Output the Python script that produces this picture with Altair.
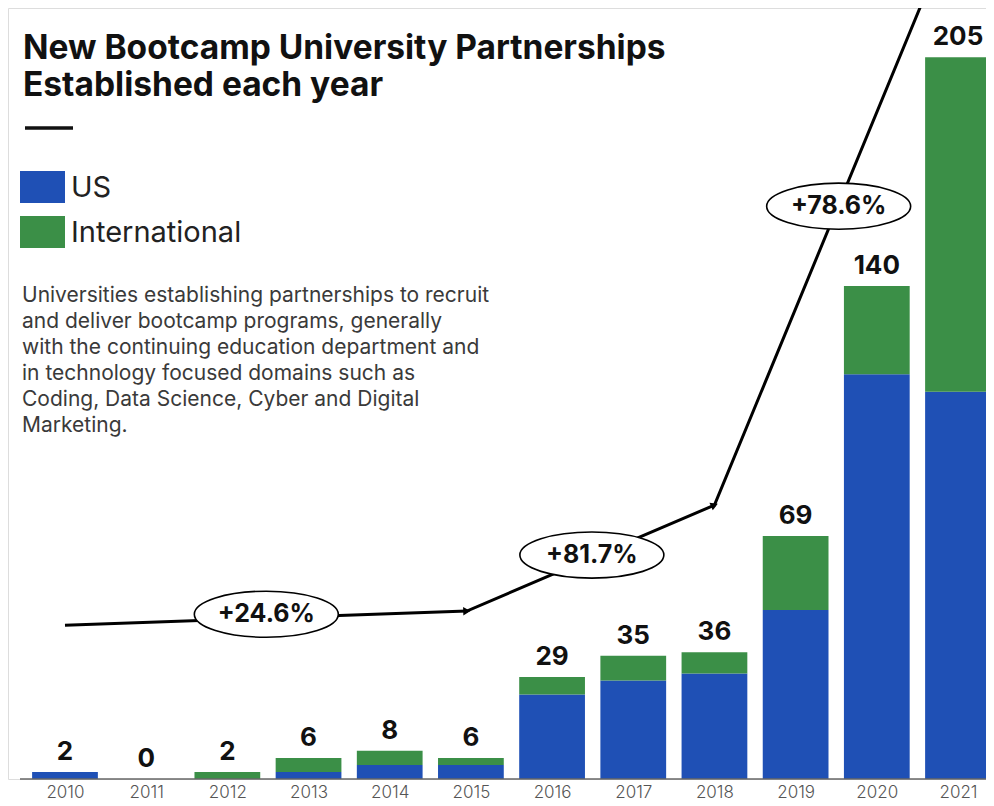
import altair as alt
import pandas as pd

# ---- data ----
years = [2010, 2011, 2012, 2013, 2014, 2015, 2016, 2017, 2018, 2019, 2020, 2021]
us_values = [2, 0, 0, 2, 4, 4, 24, 28, 30, 48, 115, 110]
intl_values = [0, 0, 2, 4, 4, 2, 5, 7, 6, 21, 25, 95]
totals = [u + i for u, i in zip(us_values, intl_values)]

trend_x = [2010.0, 2014.95, 2018.0, 2020.62]
trend_y = [43.7, 47.7, 77.8, 224.0]

growth_labels = ["+24.6%", "+81.7%", "+78.6%"]
growth_x = [2012.48, 2016.49, 2019.53]
growth_y = [46.8, 63.6, 162.7]

title_lines = ["New Bootcamp University Partnerships", "Established each year"]
legend_labels = ["US", "International"]
note_lines = [
    "Universities establishing partnerships to recruit",
    "and deliver bootcamp programs, generally",
    "with the continuing education department and",
    "in technology focused domains such as",
    "Coding, Data Science, Cyber and Digital",
    "Marketing.",
]

BLUE = "#1f50b5"
GREEN = "#3b8f47"
FONT = "Inter"

# ---- tables ----
bars = pd.DataFrame(
    {
        "year": years * 2,
        "series": ["US"] * len(years) + ["International"] * len(years),
        "value": us_values + intl_values,
        "ord": [0] * len(years) + [1] * len(years),
    }
)
tot = pd.DataFrame({"year": years, "total": totals})
trend = pd.DataFrame({"tx": trend_x, "ty": trend_y, "i": list(range(len(trend_x)))})
growth = pd.DataFrame({"gx": growth_x, "gy": growth_y, "label": growth_labels})

xscale = alt.Scale(domain=[2009.298, 2021.345], nice=False, zero=False)
yscale = alt.Scale(domain=[0, 219], nice=False)

xaxis = alt.Axis(
    values=years, format="d", labelFont=FONT, labelFontSize=17, labelColor="#555",
    ticks=False, domain=False, grid=False, title=None, labelPadding=5, labelFontWeight=300,
)

bar_layer = (
    alt.Chart(bars)
    .transform_stack(stack="value", as_=["v0", "v1"], groupby=["year"],
                     sort=[alt.SortField("ord", order="ascending")])
    .transform_calculate(x0="datum.year - 0.405", x1="datum.year + 0.405")
    .mark_bar(clip=True)
    .encode(
        x=alt.X("x0:Q", scale=xscale, axis=xaxis),
        x2="x1:Q",
        y=alt.Y("v0:Q", scale=yscale, axis=None),
        y2="v1:Q",
        color=alt.Color(
            "series:N",
            scale=alt.Scale(domain=["US", "International"], range=[BLUE, GREEN]),
            legend=None,
        ),
    )
)

value_labels = (
    alt.Chart(tot)
    .mark_text(font=FONT, fontSize=26, fontWeight="bold", baseline="alphabetic", dy=-12, color="#111")
    .encode(x=alt.X("year:Q", scale=xscale), y=alt.Y("total:Q", scale=yscale), text="total:Q")
)

baseline = (
    alt.Chart(pd.DataFrame({"a": [0]}))
    .mark_rule(color="#666", strokeWidth=1.5)
    .encode(x=alt.value(12), x2=alt.value(978), y=alt.value(771))
)

trend_line = (
    alt.Chart(trend)
    .mark_line(color="black", strokeWidth=3, clip=True)
    .encode(x=alt.X("tx:Q", scale=xscale), y=alt.Y("ty:Q", scale=yscale), order="i:Q")
)

arrow1 = (
    alt.Chart(trend)
    .transform_filter("datum.i == 1")
    .mark_point(shape="triangle-right", filled=True, color="black", size=70, angle=358, opacity=1)
    .encode(x=alt.X("tx:Q", scale=xscale), y=alt.Y("ty:Q", scale=yscale))
)
arrow2 = (
    alt.Chart(trend)
    .transform_filter("datum.i == 2")
    .mark_point(shape="triangle-right", filled=True, color="black", size=70, angle=337, opacity=1)
    .encode(x=alt.X("tx:Q", scale=xscale), y=alt.Y("ty:Q", scale=yscale))
)

ELLIPSE = "M-1,0A1,0.32,0,1,0,1,0A1,0.32,0,1,0,-1,0Z"
ellipses = (
    alt.Chart(growth)
    .mark_point(shape=ELLIPSE, size=144 * 144, filled=False, fill="white", fillOpacity=1,
                stroke="black", strokeWidth=1.6, opacity=1)
    .encode(x=alt.X("gx:Q", scale=xscale), y=alt.Y("gy:Q", scale=yscale))
)
growth_text = (
    alt.Chart(growth)
    .mark_text(font=FONT, fontSize=25, fontWeight="bold", color="#111", baseline="middle")
    .encode(x=alt.X("gx:Q", scale=xscale), y=alt.Y("gy:Q", scale=yscale), text="label:N")
)

one = pd.DataFrame({"a": [0]})
title = (
    alt.Chart(one)
    .mark_text(font=FONT, fontSize=33.5, fontWeight="bold", align="left", baseline="alphabetic",
               lineHeight=37, color="#111")
    .encode(x=alt.value(15), y=alt.value(51), text=alt.value(title_lines))
)
dash = (
    alt.Chart(one)
    .mark_rule(color="#111", strokeWidth=3.5)
    .encode(x=alt.value(17), x2=alt.value(65), y=alt.value(120))
)
leg_us = (
    alt.Chart(one).mark_rect(color=BLUE)
    .encode(x=alt.value(12), x2=alt.value(57), y=alt.value(163), y2=alt.value(195))
)
leg_int = (
    alt.Chart(one).mark_rect(color=GREEN)
    .encode(x=alt.value(12), x2=alt.value(57), y=alt.value(208), y2=alt.value(240))
)
leg_text = (
    alt.Chart(pd.DataFrame({"label": legend_labels, "k": [0, 1]}))
    .transform_calculate(py="180 + datum.k * 45")
    .mark_text(font=FONT, fontSize=29, align="left", baseline="middle", color="#222")
    .encode(x=alt.value(63), y=alt.Y("py:Q", scale=None), text="label:N")
)
note = (
    alt.Chart(one)
    .mark_text(font=FONT, fontSize=21, align="left", baseline="alphabetic", lineHeight=26,
               color="#3a3a3a")
    .encode(x=alt.value(14), y=alt.value(294), text=alt.value(note_lines))
)

chart = (
    alt.layer(
        bar_layer, baseline, value_labels, trend_line, arrow1, arrow2, ellipses, growth_text,
        title, dash, leg_us, leg_int, leg_text, note,
    )
    .properties(
        width=978, height=771, autosize=alt.AutoSizeParams(type="none"),
        padding={"left": 0, "top": 0, "right": 0, "bottom": 27},
    )
    .configure_view(stroke=None)
    .configure(background="white")
)

chart.save("out.html", embed_options={"renderer": "svg", "actions": False})
